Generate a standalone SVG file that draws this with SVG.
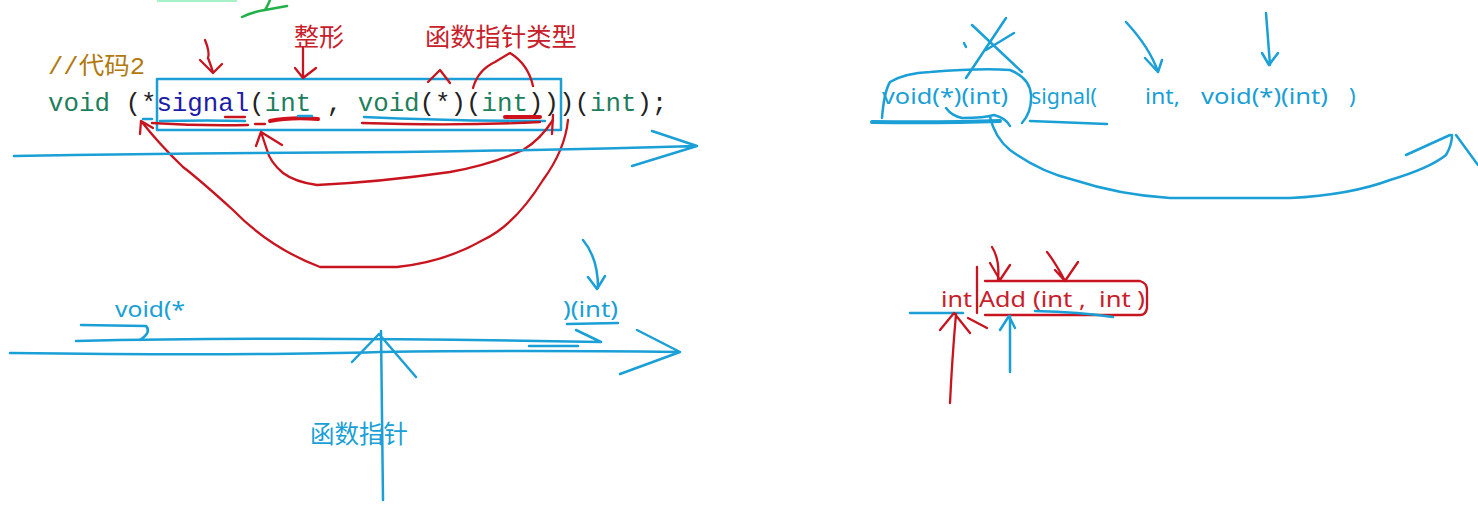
<svg xmlns="http://www.w3.org/2000/svg" width="1478" height="511" viewBox="0 0 1478 511">
<style>
.b{fill:none;stroke:#1a9fd6;stroke-width:2.5;stroke-linecap:round;stroke-linejoin:round}
.bt{fill:none;stroke:#1a9fd6;stroke-width:4;stroke-linecap:round}
.r{fill:none;stroke:#c8141e;stroke-width:2.3;stroke-linecap:round;stroke-linejoin:round}
.rt{fill:none;stroke:#d0101a;stroke-width:4;stroke-linecap:round}
.g{fill:none;stroke:#22b048;stroke-width:2.5;stroke-linecap:round}
.code{font-family:"Liberation Mono",monospace;font-size:25.8px}
.cj{font-family:"Noto Sans","Noto Sans CJK SC",sans-serif}
.bl{fill:#1a9fd6}
.rd{fill:#c8202a}
</style>
<rect width="1478" height="511" fill="#ffffff"/>

<!-- top green marks -->
<rect x="157" y="0" width="80" height="2" fill="#a8f0c8"/>
<path class="g" d="M242,17 Q252,12 265,10 L287,6 M265,10 Q268,5 270,0"/>

<!-- code -->
<text x="48" y="74" font-family="Liberation Mono,Noto Sans CJK SC,monospace" font-size="24" fill="#b07a10" textLength="97" lengthAdjust="spacingAndGlyphs">//代码2</text>
<text x="48" y="111" class="code" xml:space="preserve"><tspan fill="#1e7f5c">void</tspan><tspan fill="#222"> (*</tspan><tspan fill="#1c1ca8">signal</tspan><tspan fill="#222">(</tspan><tspan fill="#1e7f5c">int</tspan><tspan fill="#222"> , </tspan><tspan fill="#1e7f5c">void</tspan><tspan fill="#222">(*)(</tspan><tspan fill="#1e7f5c">int</tspan><tspan fill="#222">)))(</tspan><tspan fill="#1e7f5c">int</tspan><tspan fill="#222">);</tspan></text>

<!-- red labels -->
<text x="294" y="46" class="cj rd" font-size="25">整形</text>
<text x="425" y="46" class="cj rd" font-size="25.3">函数指针类型</text>

<!-- blue box -->
<rect x="157" y="79" width="404" height="51" class="b" stroke-linecap="butt"/>

<!-- underlines in code -->
<path class="b" d="M143,119 L152,119"/>
<path class="r" d="M152,123 Q200,126 248,125"/>
<path class="b" d="M160,121 Q210,120 245,121"/>
<path class="r" d="M225,117 L245,117 M255,124 L265,124"/>
<path class="rt" d="M270,121 Q290,117 318,119"/>
<path class="b" d="M298,116 L312,116"/>
<path class="b" d="M364,117 Q450,121 545,121"/>
<path class="r" d="M362,123 Q460,126 540,122"/>
<path class="rt" d="M505,117 L540,117"/>
<path class="r" d="M553,115 L552,134"/>

<!-- red small arrows -->
<path class="r" d="M205,40 Q210,52 208,58 Q212,68 213,73 M200,60 L213,73 L222,64"/>
<path class="r" d="M303,48 L303,78 M295,68 L303,78 L316,68"/>
<path class="r" d="M428,82 L440,70 L450,83"/>
<path class="r" d="M473,88 Q478,70 495,62 L510,53 Q528,64 533,86"/>

<!-- red curves -->
<path class="r" d="M568,120 Q565,150 543,180 Q515,225 483,240 Q445,262 397,267 L320,267 Q270,248 233,210 Q200,180 183,167 Q160,145 141,121 M140,134 L141,121 L153,128"/>
<path class="r" d="M553,120 Q540,140 523,150 Q490,165 450,172 Q380,182 317,185 Q295,182 283,173 Q270,162 267,150 L261,132 M256,146 L261,132 L282,145"/>

<!-- top blue long arrow -->
<path class="b" d="M14,156 Q200,153 400,152 Q560,150 697,146 M652,131 L697,146 L632,166"/>

<!-- bottom left -->
<text x="115" y="317" class="cj bl" font-size="22" textLength="70" lengthAdjust="spacingAndGlyphs">void(*</text>
<text x="563" y="317" class="cj bl" font-size="22" textLength="55" lengthAdjust="spacingAndGlyphs">)(int)</text>
<path class="b" d="M567,324 L618,323"/>
<path class="b" d="M583,240 Q598,258 598,288 M588,277 L597,289 L605,276"/>
<path class="b" d="M81,325 L146,326 Q152,332 140,340"/>
<path class="b" d="M76,341 Q300,336 601,342 M576,330 L601,342 M529,346 L578,346"/>
<path class="b" d="M10,353 Q250,356 380,352 Q520,350 680,352 M637,330 L680,352 L620,374"/>
<path class="b" d="M381,331 L383,500 M352,362 L379,334 L416,377"/>
<text x="310" y="443" class="cj bl" font-size="24.5">函数指针</text>

<!-- right top -->
<text x="882" y="104" class="cj bl" font-size="22" textLength="126" lengthAdjust="spacingAndGlyphs">void(*)(int)</text>
<text x="1031" y="104" class="cj bl" font-size="22" textLength="66" lengthAdjust="spacingAndGlyphs">signal(</text>
<text x="1145" y="104" class="cj bl" font-size="22" textLength="35" lengthAdjust="spacingAndGlyphs">int,</text>
<text x="1201" y="104" class="cj bl" font-size="22" textLength="127" lengthAdjust="spacingAndGlyphs">void(*)(int)</text>
<text x="1349" y="104" class="cj bl" font-size="22">)</text>
<path class="bt" d="M872,122 Q940,123 1000,121"/>
<path class="b" d="M1030,121 L1107,124"/>
<path class="b" d="M882,118 Q884,92 890,82 Q905,73 930,72 Q980,68 1010,70 Q1030,78 1031,95 Q1032,112 1022,123"/>
<path class="b" d="M946,108 Q952,116 962,118 Q985,118 994,115 Q1006,118 1010,126"/>
<path class="b" d="M1006,18 L966,78 M972,25 L1022,72 M1014,33 L986,50 M964,43 L966,47"/>
<path class="b" d="M990,117 Q995,138 1010,150 Q1040,172 1074,180 Q1120,195 1170,198 L1290,198 Q1350,195 1390,180 Q1430,168 1446,155 Q1452,145 1452,135 M1406,155 L1450,135 M1456,135 L1478,165"/>
<path class="b" d="M1126,22 Q1150,48 1158,72 M1145,58 L1158,72 L1162,60"/>
<path class="b" d="M1266,13 Q1268,40 1270,65 M1262,53 L1269,65 L1278,53"/>

<!-- int Add -->
<text x="941" y="307" class="cj rd" font-size="22" textLength="31" lengthAdjust="spacingAndGlyphs">int</text>
<text x="979" y="307" class="cj rd" font-size="22" textLength="47" lengthAdjust="spacingAndGlyphs">Add</text>
<text x="1033" y="307" class="cj rd" font-size="22" textLength="112" lengthAdjust="spacingAndGlyphs" xml:space="preserve">(int ,  int )</text>
<path class="r" d="M985,281 L1140,281 Q1147,283 1147,290 L1147,308 Q1146,315 1140,315 L985,315"/>
<path class="r" d="M977,267 L977,313"/>
<path class="r" d="M992,247 Q1000,260 998,280 M990,263 L1000,280 L1010,265"/>
<path class="r" d="M1047,252 Q1055,262 1065,281 M1055,270 L1065,281 L1078,262"/>
<path class="b" d="M910,313 L963,313"/>
<path class="b" d="M1035,311 Q1080,312 1113,317"/>
<path class="b" d="M1010,372 L1010,316 M1000,330 L1009,316 L1015,328"/>
<path class="r" d="M950,403 Q952,360 956,314 M940,330 L954,313 L970,333 M968,318 L987,328"/>
</svg>
